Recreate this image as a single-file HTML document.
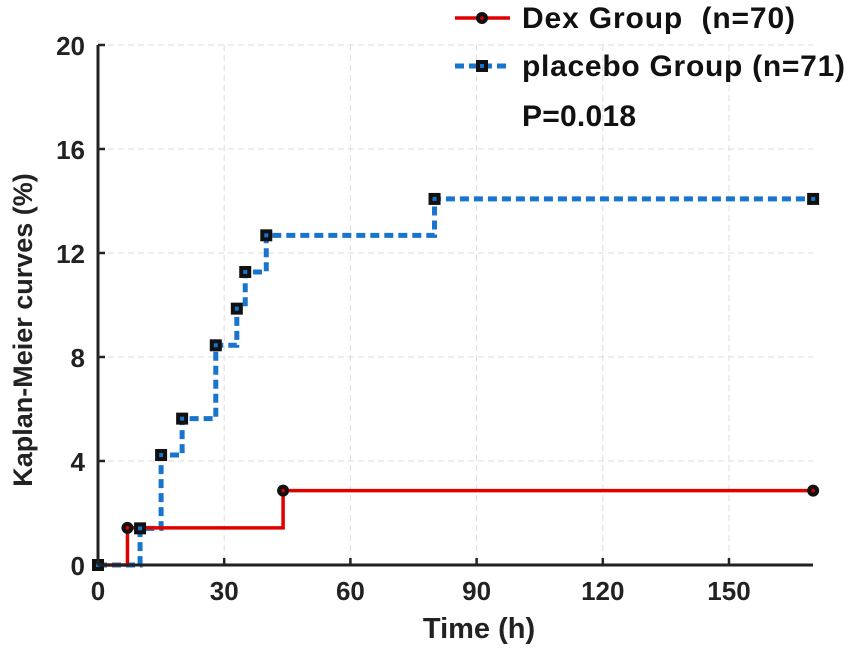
<!DOCTYPE html>
<html><head><meta charset="utf-8"><style>
html,body{margin:0;padding:0;background:#fff}
svg{display:block;font-family:"Liberation Sans",Arial,sans-serif;font-weight:bold}
</style></head><body>
<svg id="chart" width="851" height="651">
<g id="grid"></g>
<g id="series"></g>
<g id="axes"></g>
<text x="479" y="638" font-size="29" text-anchor="middle" fill="#222">Time (h)</text>
<text transform="translate(32,330) rotate(-90)" font-size="27" text-anchor="middle" fill="#222">Kaplan-Meier curves (%)</text>
<g>
<g>
<line x1="455" y1="18" x2="510" y2="18" stroke="#e00000" stroke-width="3.5"/>
<circle cx="482" cy="18" r="6" fill="#111"/><circle cx="482" cy="18" r="1.8" fill="#e00000"/>
<text x="522" y="28" font-size="30" fill="#111" textLength="273" lengthAdjust="spacing" xml:space="preserve">Dex Group  (n=70)</text>
</g>
<g>
<line x1="455" y1="66" x2="510" y2="66" stroke="#1874cd" stroke-width="5" stroke-dasharray="9,5"/>
<rect x="476" y="60" width="12" height="12" fill="#111"/><rect x="480" y="64" width="4" height="4" fill="#1874cd"/>
<text x="522" y="76" font-size="30" fill="#111" textLength="323" lengthAdjust="spacing">placebo Group (n=71)</text>
</g>
<text x="522" y="126" font-size="30" fill="#111" textLength="114" lengthAdjust="spacing">P=0.018</text>
</g>
</svg>
<script>
const xTicks=[0,30,60,90,120,150];
const yTicks=[0,4,8,12,16,20];
const dexTimes=[0,7,44,170];
const dexValues=[0,1.43,2.86,2.86];
const placeboTimes=[0,10,15,20,28,33,35,40,80,170];
const placeboValues=[0,1.41,4.23,5.63,8.45,9.86,11.27,12.68,14.08,14.08];
const X0=98,XR=813,Y0=565,Y1=45;
const xs=v=>X0+v*(729-X0)/150;
const ys=v=>Y0-v*(Y0-Y1)/20;
const NS='http://www.w3.org/2000/svg';
function mk(t,a,p){const e=document.createElementNS(NS,t);for(const k in a)e.setAttribute(k,a[k]);p.appendChild(e);return e;}
const grid=document.getElementById('grid'),axes=document.getElementById('axes'),series=document.getElementById('series');
xTicks.forEach(t=>{
 if(t>0){const g=mk('line',{x1:xs(t),x2:xs(t),y1:Y1,y2:Y0,stroke:'#ddd','stroke-width':1,'stroke-dasharray':'6,4'},grid);
 
 }
 const tk=mk('line',{x1:xs(t),x2:xs(t),y1:Y0,y2:Y0-7,stroke:'#222','stroke-width':2.5},axes);
 
 
 const tx=mk('text',{x:xs(t),y:600,'font-size':26,'text-anchor':'middle',fill:'#222'},axes);tx.textContent=t;
 
 
});
yTicks.forEach(t=>{
 if(t>0){const g=mk('line',{x1:X0,x2:XR,y1:ys(t),y2:ys(t),stroke:'#ddd','stroke-width':1,'stroke-dasharray':'6,4'},grid);
 
 }
 const tk=mk('line',{x1:X0,x2:X0+7,y1:ys(t),y2:ys(t),stroke:'#222','stroke-width':2.5},axes);
 
 
 const tx=mk('text',{x:X0-13,y:ys(t)+10,'font-size':26,'text-anchor':'end',fill:'#222'},axes);tx.textContent=t;
 
 
});
const xa=mk('line',{x1:X0,x2:XR,y1:Y0,y2:Y0,stroke:'#222','stroke-width':3},axes);


const ya=mk('line',{x1:X0,x2:X0,y1:Y1,y2:Y0,stroke:'#222','stroke-width':3},axes);


function stepPath(T,V){let d='M'+xs(T[0])+','+ys(V[0]);for(let i=1;i<T.length;i++){d+=' H'+xs(T[i])+' V'+ys(V[i]);}return d;}
const pb=mk('path',{d:stepPath(placeboTimes,placeboValues),fill:'none',stroke:'#1874cd','stroke-width':5,'stroke-dasharray':'9,5'},series);


const dx=mk('path',{d:stepPath(dexTimes,dexValues),fill:'none',stroke:'#e00000','stroke-width':3.5},series);


dexTimes.forEach((t,i)=>{const c=mk('circle',{cx:xs(t),cy:ys(dexValues[i]),r:6,fill:'#111'},series);
 
 
 mk('circle',{cx:xs(t),cy:ys(dexValues[i]),r:1.8,fill:'#e00000'},series);});
placeboTimes.forEach((t,i)=>{const r=mk('rect',{x:xs(t)-6,y:ys(placeboValues[i])-6,width:12,height:12,fill:'#111'},series);
 
 
 mk('rect',{x:xs(t)-2,y:ys(placeboValues[i])-2,width:4,height:4,fill:'#1874cd'},series);});
</script>
</body></html>
